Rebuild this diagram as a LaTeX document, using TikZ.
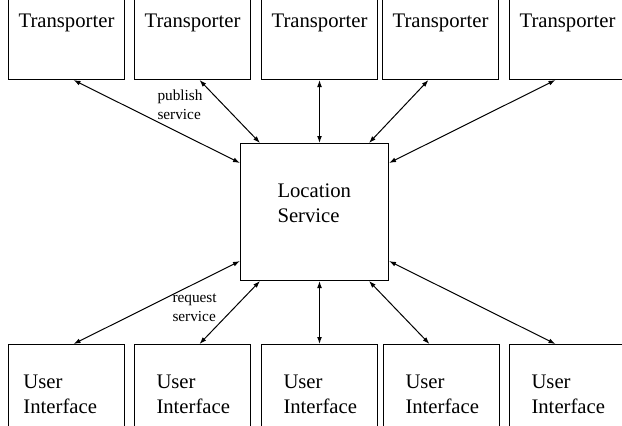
\documentclass[tikz,border=0pt]{standalone}
\usepackage{fontspec}
\setmainfont{LiberationSerif}[Extension=.ttf,UprightFont=*-Regular,BoldFont=*-Bold,ItalicFont=*-Italic,BoldItalicFont=*-BoldItalic]
\usetikzlibrary{arrows.meta}
\tikzstyle{link}=[<->,>={Latex[length=3.5pt,width=2.4pt]}]
\tikzstyle{box}=[rectangle,draw,inner sep=0pt,font=\fontsize{10.35}{12.4}\selectfont]
\tikzstyle{trans}=[box,text width=58pt,align=center,text height=20pt,text depth=26.25pt,anchor=south west]
\tikzstyle{ui}=[box,inner xsep=11pt,text width=36pt,align=left,text height=22pt,text depth=26pt,anchor=north west]
\tikzstyle{loc}=[box,inner xsep=18.5pt,text width=37pt,align=left,text height=27pt,text depth=41.5pt,anchor=north west]
\tikzstyle{lbl}=[inner sep=0pt,text width=24pt,align=left,text height=5pt,anchor=north west,font=\fontsize{7.65}{9.5}\selectfont]

\begin{document}
\begin{tikzpicture}[x=0.5pt,y=-0.5pt,line width=0.5pt]
				\useasboundingbox (0,0) rectangle (622,425);

				%The transporters
				\draw (8,80) node[trans] (t1) {Transporter};
				\draw (134,80) node[trans] (t2) {Transporter};
				\draw (261,80) node[trans] (t3) {Transporter};
				\draw (382,80) node[trans] (t4) {Transporter};
				\draw (509,80) node[trans] (t5) {Transporter};

				%The location service
				\draw (240,143) node[loc] (ls) {Location\\Service};

				%The user interfaces
				\draw (8,344) node[ui,inner xsep=7.5pt,text width=43pt] (u1) {User\\Interface};
				\draw (134,344) node[ui] (u2) {User\\Interface};
				\draw (261,344) node[ui] (u3) {User\\Interface};
				\draw (383,344) node[ui] (u4) {User\\Interface};
				\draw (509,344) node[ui] (u5) {User\\Interface};

				%Publishing
				\draw[link] ([xshift=3.5pt]t1.south) -- ([yshift=-10pt]ls.north west);
				\draw[link] ([xshift=3.5pt]t2.south) -- ([xshift=10pt]ls.north west);
				\draw[link] (t3.south) -- ([xshift=2.5pt]ls.north);
				\draw[link] ([xshift=-6pt]t4.south) -- ([xshift=-10pt]ls.north east);
				\draw[link] ([xshift=-6pt]t5.south) -- ([yshift=-10pt]ls.north east);
				\draw (157,90) node[lbl] (pub) {publish\\service};

				%Requesting
				\draw[link] ([yshift=10pt]ls.south west) -- ([xshift=3.5pt]u1.north);
				\draw[link] ([xshift=10pt]ls.south west) -- ([xshift=3.5pt]u2.north);
				\draw[link] ([xshift=2.5pt]ls.south) -- (u3.north);
				\draw[link] ([xshift=-10pt]ls.south east) -- ([xshift=-6pt]u4.north);
				\draw[link] ([yshift=10pt]ls.south east) -- ([xshift=-6pt]u5.north);
				\draw (172,292) node[lbl] (req) {request\\service};
			\end{tikzpicture}
\end{document}
